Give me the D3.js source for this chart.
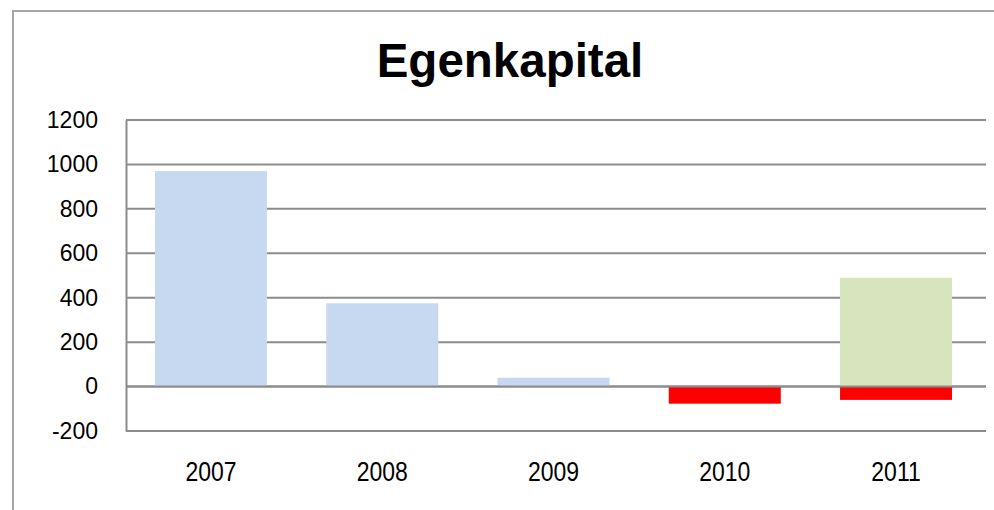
<!DOCTYPE html>
<html><head><meta charset="utf-8">
<script src="https://cdn.jsdelivr.net/npm/d3@7"></script>
<style>body{margin:0;background:#fff}svg{display:block}text{font-family:"Liberation Sans",Arial,sans-serif}</style>
</head><body>
<script>
const title = "Egenkapital";
const years = ["2007","2008","2009","2010","2011"];
const positiveValues = [970, 375, 40, 0, 490];
const negativeValues = [0, 0, 0, -77, -60];
const positiveColors = ["#c6d9f1","#c6d9f1","#c6d9f1","#c6d9f1","#d7e4bd"];
const negativeColor = "#ff0000";
const yTicks = [-200, 0, 200, 400, 600, 800, 1000, 1200];

const W = 994, H = 510;
const svg = d3.select("body").append("svg").attr("width", W).attr("height", H);

svg.append("rect").attr("x", 13).attr("y", 11).attr("width", 1000).attr("height", 520)
  .attr("fill", "#fff").attr("stroke", "#a6a6a6").attr("stroke-width", 2);

const m = {left: 126, right: 986, top: 120, bottom: 431};
const x = d3.scaleBand().domain(years).range([m.left, 981]).paddingInner(0.346).paddingOuter(0.169);
const y = d3.scaleLinear().domain([-200, 1200]).range([m.bottom, m.top]);

svg.append("text").attr("x", 510).attr("y", 77).attr("text-anchor", "middle")
  .attr("font-size", 47.5).attr("font-weight", "bold").attr("fill", "#000").text(title);

// gridlines
svg.append("g").selectAll("line").data(yTicks).join("line")
  .attr("x1", m.left).attr("x2", m.right)
  .attr("y1", d => y(d)).attr("y2", d => y(d))
  .attr("stroke", "#8c8c8c").attr("stroke-width", 2);

// bars
svg.append("g").selectAll("rect").data(years).join("rect")
  .attr("x", d => x(d)).attr("width", x.bandwidth())
  .attr("y", (d, i) => y(positiveValues[i]))
  .attr("height", (d, i) => y(0) - y(positiveValues[i]))
  .attr("fill", (d, i) => positiveColors[i]);
svg.append("g").selectAll("rect").data(years).join("rect")
  .attr("x", d => x(d)).attr("width", x.bandwidth())
  .attr("y", y(0))
  .attr("height", (d, i) => y(negativeValues[i]) - y(0))
  .attr("fill", negativeColor);

// zero line on top
svg.append("line").attr("x1", m.left).attr("x2", m.right).attr("y1", y(0)).attr("y2", y(0))
  .attr("stroke", "#8c8c8c").attr("stroke-width", 2);

// y axis
const ya = svg.append("g").attr("transform", `translate(${m.left},0)`)
  .call(d3.axisLeft(y).tickValues(yTicks).tickSize(0).tickPadding(28).tickFormat(d => String(d)));
ya.select(".domain").attr("stroke", "#8c8c8c").attr("stroke-width", 2);
ya.selectAll("text").attr("font-size", 23).attr("fill", "#000")
  .attr("font-family", "'Liberation Sans', Arial, sans-serif");

// x axis labels
const xa = svg.append("g").attr("transform", `translate(0,${m.bottom})`)
  .call(d3.axisBottom(x).tickSize(0).tickPadding(0));
xa.select(".domain").remove();
xa.selectAll(".tick text").attr("font-size", 23).attr("fill", "#000")
  .attr("dy", null).attr("y", 0)
  .attr("transform", "translate(0,50) scale(1,1.2)")
  .attr("font-family", "'Liberation Sans', Arial, sans-serif");
</script>
</body></html>
